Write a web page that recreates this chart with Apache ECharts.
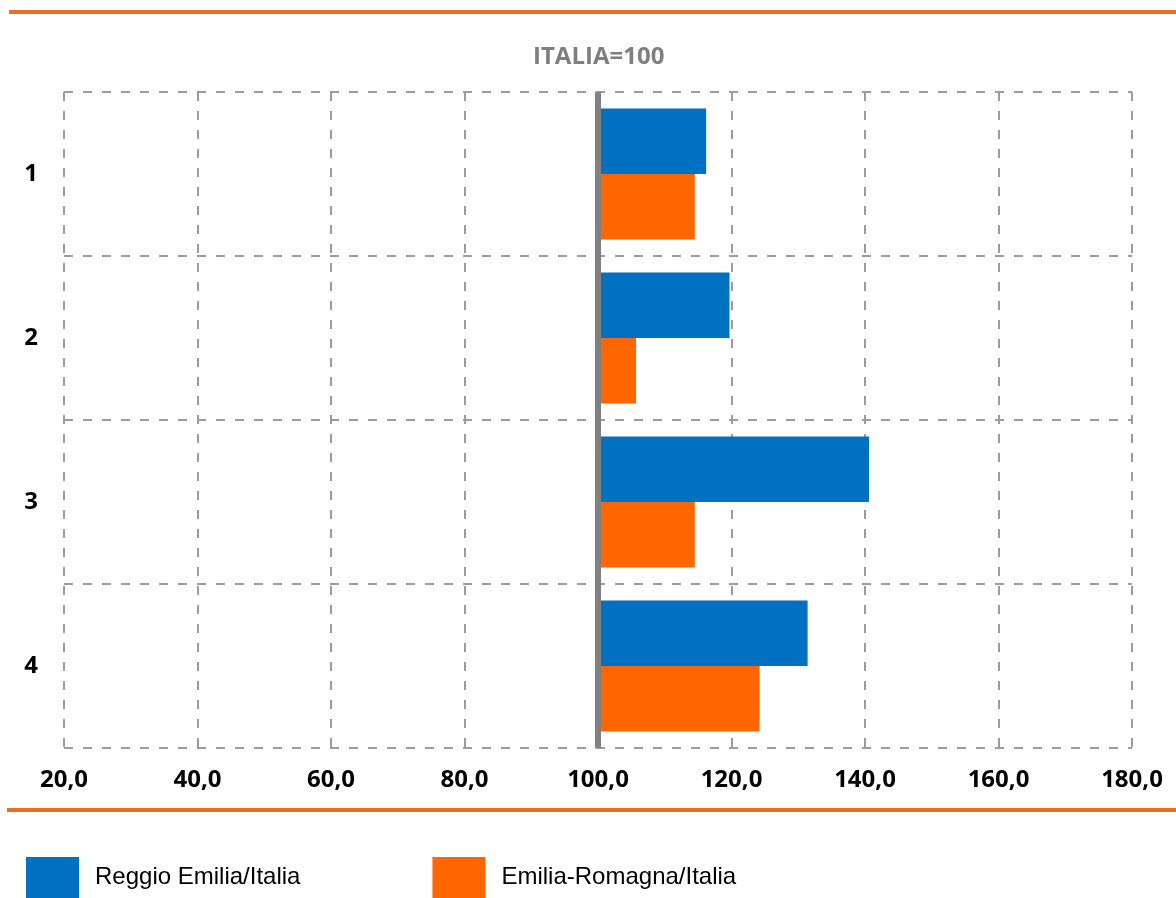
<!DOCTYPE html>
<html>
<head>
<meta charset="utf-8">
<script src="https://cdn.jsdelivr.net/npm/echarts@6/dist/echarts.min.js"></script>
<style>
html,body{margin:0;padding:0;background:#fff;}
#chart{width:1176px;height:898px;}
</style>
</head>
<body>
<div id="chart"></div>
<script>
const categories = ['1', '2', '3', '4'];
const seriesNames = ['Reggio Emilia/Italia', 'Emilia-Romagna/Italia'];
const reggioEmilia = [116.2, 119.7, 140.6, 131.4];
const emiliaRomagna = [114.5, 105.7, 114.5, 124.2];
const baseValue = 100;
const xTickLabels = ['20,0', '40,0', '60,0', '80,0', '100,0', '120,0', '140,0', '160,0', '180,0'];
const xMin = 20, xMax = 180, xStep = 20;
const titleText = 'ITALIA=100';

const chart = echarts.init(document.getElementById('chart'), null, {renderer: 'canvas'});

const baseData = categories.map(() => baseValue);
const diff = arr => arr.map(v => +(v - baseValue).toFixed(2));

const gridColor = '#9c9c9c';
const labelFont = {fontFamily: 'Open Sans', fontWeight: 'bold', fontSize: 24, color: '#000'};

const option = {
  animation: false,
  backgroundColor: '#fff',
  title: {
    text: titleText,
    left: 528,
    top: 40,
    textStyle: {fontFamily: 'Open Sans', fontWeight: 'bold', fontSize: 24, color: '#7f7f7f'}
  },
  legend: {
    data: seriesNames,
    left: 26,
    top: 857,
    padding: 0,
    itemWidth: 53,
    itemHeight: 41,
    itemGap: 132,
    icon: 'rect',
    textStyle: {fontFamily: 'Liberation Sans', fontSize: 24, color: '#000', padding: [0, 0, 0, 11]}
  },
  grid: {left: 64, right: 44, top: 92, bottom: 150, containLabel: false},
  xAxis: {
    type: 'value',
    min: xMin,
    max: xMax,
    interval: xStep,
    axisLine: {show: false},
    axisTick: {show: false},
    axisLabel: Object.assign({margin: 20, formatter: v => xTickLabels[Math.round((v - xMin) / xStep)]}, labelFont),
    splitLine: {show: true, lineStyle: {color: gridColor, width: 2, type: [9, 10]}}
  },
  yAxis: {
    type: 'category',
    data: categories,
    inverse: true,
    axisLine: {show: false},
    axisTick: {show: false},
    axisLabel: Object.assign({margin: 26}, labelFont),
    splitLine: {show: true, lineStyle: {color: gridColor, width: 2, type: [9, 10]}}
  },
  series: [
    {
      name: 'baseR', type: 'bar', stack: 'r', data: baseData, silent: true,
      itemStyle: {color: 'rgba(0,0,0,0)'}, barGap: '0%', barCategoryGap: '20%'
    },
    {
      name: seriesNames[0], type: 'bar', stack: 'r', data: diff(reggioEmilia),
      itemStyle: {color: '#0070C0'}, barGap: '0%', barCategoryGap: '20%'
    },
    {
      name: 'baseE', type: 'bar', stack: 'e', data: baseData, silent: true,
      itemStyle: {color: 'rgba(0,0,0,0)'}, barGap: '0%', barCategoryGap: '20%'
    },
    {
      name: seriesNames[1], type: 'bar', stack: 'e', data: diff(emiliaRomagna),
      itemStyle: {color: '#FF6600'}, barGap: '0%', barCategoryGap: '20%',
      markLine: {
        silent: true,
        symbol: 'none',
        label: {show: false},
        lineStyle: {color: '#808080', width: 6, type: 'solid'},
        data: [{xAxis: baseValue}],
        z: 10
      }
    }
  ],
  graphic: [
    {type: 'line', shape: {x1: 9, y1: 12, x2: 1176, y2: 12}, style: {stroke: '#EB6E25', lineWidth: 4}},
    {type: 'line', shape: {x1: 7, y1: 810, x2: 1176, y2: 810}, style: {stroke: '#EB6E25', lineWidth: 4}}
  ]
};

chart.setOption(option);
</script>
</body>
</html>
